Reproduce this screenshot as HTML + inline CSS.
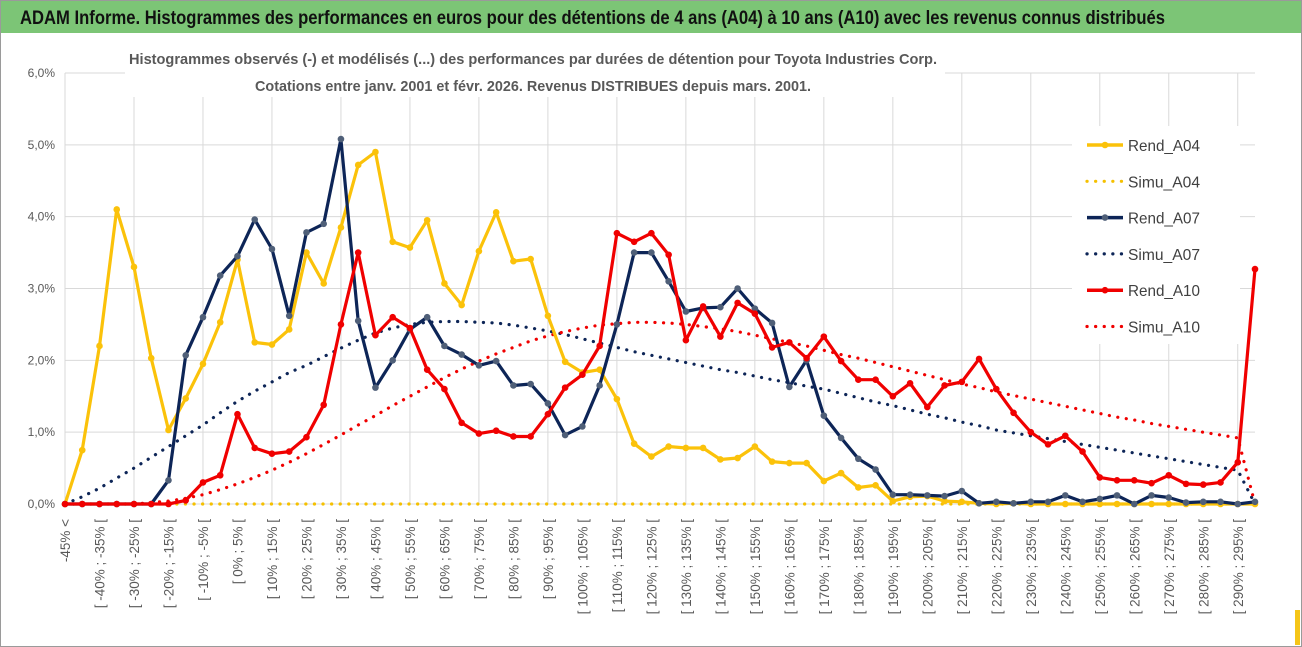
<!DOCTYPE html>
<html><head><meta charset="utf-8">
<style>
html,body{margin:0;padding:0;background:#fff;}
svg{display:block;font-family:"Liberation Sans",sans-serif;}
</style></head>
<body>
<svg id="chart" width="1302" height="647" viewBox="0 0 1302 647" xmlns="http://www.w3.org/2000/svg">
  <rect x="0.5" y="0.5" width="1301" height="646" fill="#fff" stroke="#9a9a9a"/>
  <rect x="1" y="1" width="1300" height="32" fill="#7cc576"/>
  <text x="20" y="24" font-size="19" font-weight="bold" fill="#111" textLength="1145" lengthAdjust="spacingAndGlyphs">ADAM Informe. Histogrammes des performances en euros pour des détentions de 4 ans (A04) à 10 ans (A10) avec les revenus connus distribués</text>
  <rect x="1295" y="610" width="5" height="35" fill="#f5c518"/>
  <g id="grid"></g>
  <g id="yaxis"></g>
  <g id="xaxis"></g>
  <rect x="125" y="40" width="820" height="57" fill="#fff"/>
  <text x="533" y="64" font-size="15" font-weight="bold" fill="#595959" text-anchor="middle" textLength="808" lengthAdjust="spacingAndGlyphs">Histogrammes observés (-) et modélisés (...) des performances par durées de détention pour Toyota Industries Corp.</text>
  <text x="533" y="91" font-size="15" font-weight="bold" fill="#595959" text-anchor="middle" textLength="556" lengthAdjust="spacingAndGlyphs">Cotations entre janv. 2001 et févr. 2026. Revenus DISTRIBUES depuis mars. 2001.</text>
  <g id="series"></g>
  <g id="legend"></g>
</svg>
<script>
const categories = [];
categories.push("-45% <");
for (let lo = -45; lo < 300; lo += 5) categories.push("[ " + lo + "% ; " + (lo + 5) + "% [");
const yTicks = [0, 1, 2, 3, 4, 5, 6];
const yTickLabels = ["0,0%", "1,0%", "2,0%", "3,0%", "4,0%", "5,0%", "6,0%"];
const rendA04 = [0,0.75,2.2,4.1,3.3,2.03,1.03,1.47,1.95,2.53,3.4,2.25,2.22,2.43,3.5,3.07,3.85,4.72,4.9,3.65,3.57,3.95,3.07,2.77,3.52,4.06,3.38,3.41,2.62,1.98,1.83,1.87,1.46,0.84,0.66,0.8,0.78,0.78,0.62,0.64,0.8,0.59,0.57,0.57,0.32,0.43,0.23,0.26,0.04,0.1,0.11,0.04,0.03,0.01,0,0.01,0,0,0,0,0,0,0,0,0,0,0,0,0,0];
const simuA04 = [0,0,0,0,0,0,0,0,0,0,0,0,0,0,0,0,0,0,0,0,0,0,0,0,0,0,0,0,0,0,0,0,0,0,0,0,0,0,0,0,0,0,0,0,0,0,0,0,0,0,0,0,0,0,0,0,0,0,0,0,0,0,0,0,0,0,0,0,0,0];
const rendA07 = [0,0,0,0,0,0,0.33,2.07,2.6,3.18,3.45,3.96,3.55,2.62,3.78,3.9,5.08,2.55,1.62,2.0,2.43,2.6,2.2,2.08,1.93,1.99,1.65,1.67,1.4,0.96,1.08,1.65,2.5,3.5,3.5,3.1,2.68,2.73,2.74,3.0,2.72,2.52,1.63,2.0,1.23,0.92,0.63,0.48,0.13,0.13,0.12,0.11,0.18,0.01,0.03,0.01,0.03,0.03,0.12,0.03,0.07,0.12,0,0.12,0.09,0.02,0.03,0.03,0,0.03];
const simuA07 = [0,0.1,0.22,0.36,0.5,0.65,0.8,0.95,1.1,1.27,1.43,1.57,1.7,1.83,1.93,2.05,2.17,2.28,2.38,2.45,2.5,2.53,2.54,2.54,2.53,2.52,2.49,2.45,2.41,2.36,2.3,2.24,2.18,2.12,2.07,2.02,1.97,1.92,1.87,1.83,1.78,1.73,1.69,1.64,1.6,1.54,1.48,1.42,1.37,1.31,1.25,1.2,1.14,1.09,1.03,0.99,0.95,0.91,0.87,0.83,0.79,0.75,0.71,0.67,0.63,0.59,0.55,0.51,0.47,0];
const rendA10 = [0,0,0,0,0,0,0,0.05,0.3,0.4,1.25,0.78,0.7,0.73,0.93,1.38,2.5,3.5,2.35,2.6,2.45,1.87,1.6,1.13,0.98,1.02,0.94,0.94,1.25,1.62,1.8,2.2,3.77,3.65,3.77,3.47,2.28,2.75,2.33,2.8,2.65,2.18,2.25,2.03,2.33,1.99,1.73,1.73,1.5,1.68,1.35,1.65,1.7,2.02,1.6,1.27,1.0,0.83,0.95,0.73,0.37,0.33,0.33,0.29,0.4,0.28,0.27,0.3,0.58,3.27];
const simuA10 = [0,0,0,0,0,0.02,0.04,0.08,0.13,0.2,0.28,0.37,0.47,0.58,0.7,0.83,0.96,1.1,1.23,1.37,1.5,1.63,1.76,1.88,1.99,2.09,2.18,2.27,2.34,2.4,2.45,2.49,2.51,2.53,2.53,2.52,2.5,2.47,2.44,2.4,2.35,2.3,2.25,2.2,2.14,2.08,2.03,1.97,1.91,1.85,1.79,1.73,1.67,1.62,1.56,1.51,1.46,1.41,1.36,1.31,1.26,1.21,1.17,1.12,1.08,1.04,1.0,0.96,0.92,0];

const NS = "http://www.w3.org/2000/svg";
const X0 = 65, X1 = 1255, Y0 = 504, Y6 = 73;
const xPos = i => X0 + i * (X1 - X0) / (categories.length - 1);
const yPos = v => Y0 - v * (Y0 - Y6) / 6;
function mk(tag, attrs, parent) {
  const e = document.createElementNS(NS, tag);
  for (const k in attrs) e.setAttribute(k, attrs[k]);
  parent.appendChild(e);
  return e;
}
const grid = document.getElementById("grid");
const yaxis = document.getElementById("yaxis");
const xaxis = document.getElementById("xaxis");
const series = document.getElementById("series");
const legend = document.getElementById("legend");

yTicks.forEach((t, k) => {
  const l = mk("line", {x1: X0, x2: X1, y1: yPos(t), y2: yPos(t), stroke: "#d9d9d9", "stroke-width": 1}, grid);
  
  
  const tx = mk("text", {x: 55, y: yPos(t) + 4, "font-size": 12, fill: "#595959", "text-anchor": "end"}, yaxis);
  tx.textContent = yTickLabels[k];
  
  
});
for (let i = 0; i < categories.length; i += 4) {
  const l = mk("line", {x1: xPos(i), x2: xPos(i), y1: Y6, y2: Y0, stroke: "#d9d9d9", "stroke-width": 1}, grid);
  
  
}
categories.forEach((c, i) => {
  if (i % 2) return;
  const x = xPos(i) + 5, y = 519;
  const tx = mk("text", {x: x, y: y, "font-size": 13.5, fill: "#595959", "text-anchor": "end", transform: "rotate(-90 " + x + " " + y + ")"}, xaxis);
  tx.textContent = c;
  
  
});

function drawLine(vals, color, name, markerColor) {
  const g = mk("g", {}, series);
  
  
  const pts = vals.map((v, i) => xPos(i).toFixed(1) + "," + yPos(v).toFixed(1)).join(" ");
  const pl = mk("polyline", {points: pts, fill: "none", stroke: color, "stroke-width": 3.2, "stroke-linejoin": "round"}, g);
  
  
  vals.forEach((v, i) => {
    const c = mk("circle", {cx: xPos(i), cy: yPos(v), r: 3.3, fill: markerColor}, g);
    
    
  });
}
function drawDots(vals, color, name) {
  const g = mk("g", {}, series);
  
  
  const pts = vals.map((v, i) => xPos(i).toFixed(1) + "," + yPos(v).toFixed(1)).join(" ");
  const pl = mk("polyline", {points: pts, fill: "none", stroke: color, "stroke-width": 3.2, "stroke-dasharray": "0.1 8.5", "stroke-linecap": "round"}, g);
  
  
}
drawDots(simuA04, "#f5c000", "simu-a04-series");
drawDots(simuA07, "#0d2557", "simu-a07-series");
drawDots(simuA10, "#f00000", "simu-a10-series");
drawLine(rendA04, "#fbc20a", "rend-a04-series", "#fbc20a");
drawLine(rendA07, "#0d2557", "rend-a07-series", "#4f5f78");
drawLine(rendA10, "#f00000", "rend-a10-series", "#f00000");

// legend
const lb = mk("rect", {x: 1072, y: 126, width: 168, height: 218, fill: "#fff"}, legend);


const legendNames = ["Rend_A04", "Simu_A04", "Rend_A07", "Simu_A07", "Rend_A10", "Simu_A10"];
const legendColors = ["#fbc20a", "#f5c000", "#0d2557", "#0d2557", "#f00000", "#f00000"];
legendNames.forEach((n, k) => {
  const y = 145 + k * 36.3;
  const g = mk("g", {}, legend);
  
  
  if (k % 2 === 0) {
    mk("line", {x1: 1087, x2: 1123, y1: y, y2: y, stroke: legendColors[k], "stroke-width": 3.5}, g);
    mk("circle", {cx: 1105, cy: y, r: 3.3, fill: k === 2 ? "#4f5f78" : legendColors[k]}, g);
  } else {
    mk("line", {x1: 1087, x2: 1123, y1: y, y2: y, stroke: legendColors[k], "stroke-width": 3.2, "stroke-dasharray": "0.1 8.5", "stroke-linecap": "round"}, g);
  }
  const t = mk("text", {x: 1128, y: y + 6, "font-size": 16, fill: "#404040", textLength: 72, lengthAdjust: "spacingAndGlyphs"}, g);
  t.textContent = n;
});
</script>
</body></html>
